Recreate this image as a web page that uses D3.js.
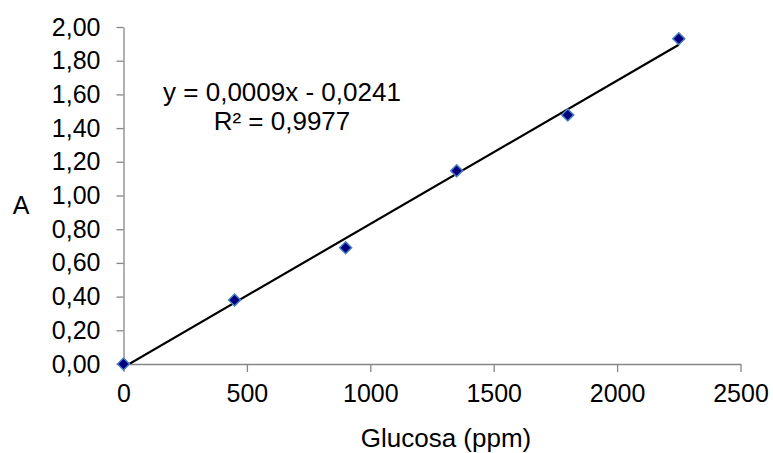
<!DOCTYPE html>
<html>
<head>
<meta charset="utf-8">
<script src="https://cdn.jsdelivr.net/npm/d3@7"></script>
<style>
  body { margin: 0; background: #fff; }
  svg { display: block; font-family: "Liberation Sans", Arial, sans-serif; }
  .axis path, .axis line { stroke: #868686; stroke-width: 1.3; }
  .axis text { font-size: 25px; fill: #000; }
</style>
</head>
<body>
<script>
// data
var glucosa = [0, 450, 900, 1350, 1800, 2250];
var absorb = [0, 0.38, 0.69, 1.147, 1.478, 1.93];
var xTicks = [0, 500, 1000, 1500, 2000, 2500];
var yTicks = [0, 0.2, 0.4, 0.6, 0.8, 1.0, 1.2, 1.4, 1.6, 1.8, 2.0];
var eqLines = ["y = 0,0009x - 0,0241", "R² = 0,9977"];

window.onload = function(){
  var w = 773, h = 453;
  var left = 123.5, right = 740.5, top = 27, bottom = 364;

  var svg = d3.select("body").append("svg")
    .attr("width", w)
    .attr("height", h);

  var x = d3.scaleLinear().domain([0, 2500]).range([left, right]);
  var y = d3.scaleLinear().domain([0, 2]).range([bottom, top]);

  var comma = d3.formatLocale({decimal: ",", thousands: ".", grouping: [3], currency: ["", ""]});

  // y axis
  svg.append("g")
    .attr("class", "axis")
    .attr("transform", "translate(" + left + ",0)")
    .call(d3.axisLeft(y).tickValues(yTicks).tickFormat(comma.format(".2f"))
      .tickSizeOuter(0).tickSizeInner(7).tickPadding(16));

  // x axis
  svg.append("g")
    .attr("class", "axis")
    .attr("transform", "translate(0," + bottom + ")")
    .call(d3.axisBottom(x).tickValues(xTicks).tickFormat(d3.format("d"))
      .tickSizeOuter(0).tickSizeInner(8).tickPadding(12));

  // regression line from the points
  var mx = d3.mean(glucosa), my = d3.mean(absorb);
  var sxy = d3.sum(glucosa, function(d, i){ return (d - mx) * (absorb[i] - my); });
  var sxx = d3.sum(glucosa, function(d){ return (d - mx) * (d - mx); });
  var slope = sxy / sxx, icpt = my - slope * mx;
  var x0 = d3.min(glucosa), x1 = d3.max(glucosa);

  svg.append("clipPath").attr("id", "plot")
    .append("rect").attr("x", left).attr("y", top - 20)
    .attr("width", right - left).attr("height", bottom - top + 20);

  svg.append("line")
    .attr("clip-path", "url(#plot)")
    .attr("x1", x(x0)).attr("y1", y(slope * x0 + icpt))
    .attr("x2", x(x1)).attr("y2", y(slope * x1 + icpt))
    .attr("stroke", "#000")
    .attr("stroke-width", 2.2);

  // markers
  svg.selectAll(".pt")
    .data(glucosa)
    .enter().append("path")
    .attr("class", "pt")
    .attr("d", "M0,-6L6,0L0,6L-6,0Z")
    .attr("transform", function(d, i){ return "translate(" + x(d) + "," + y(absorb[i]) + ")"; })
    .attr("fill", "#000080")
    .attr("stroke", "#4f81bd")
    .attr("stroke-width", 1.5);

  // equation
  svg.selectAll(".eq")
    .data(eqLines)
    .enter().append("text")
    .attr("class", "eq")
    .attr("x", 282)
    .attr("y", function(d, i){ return 101 + i * 29; })
    .attr("text-anchor", "middle")
    .attr("font-size", 26)
    .text(function(d){ return d; });

  // axis titles
  svg.append("text")
    .attr("x", 21).attr("y", 214)
    .attr("text-anchor", "middle")
    .attr("font-size", 25)
    .text("A");

  svg.append("text")
    .attr("x", 446).attr("y", 447)
    .attr("text-anchor", "middle")
    .attr("font-size", 26)
    .text("Glucosa (ppm)");
};
</script>
</body>
</html>
